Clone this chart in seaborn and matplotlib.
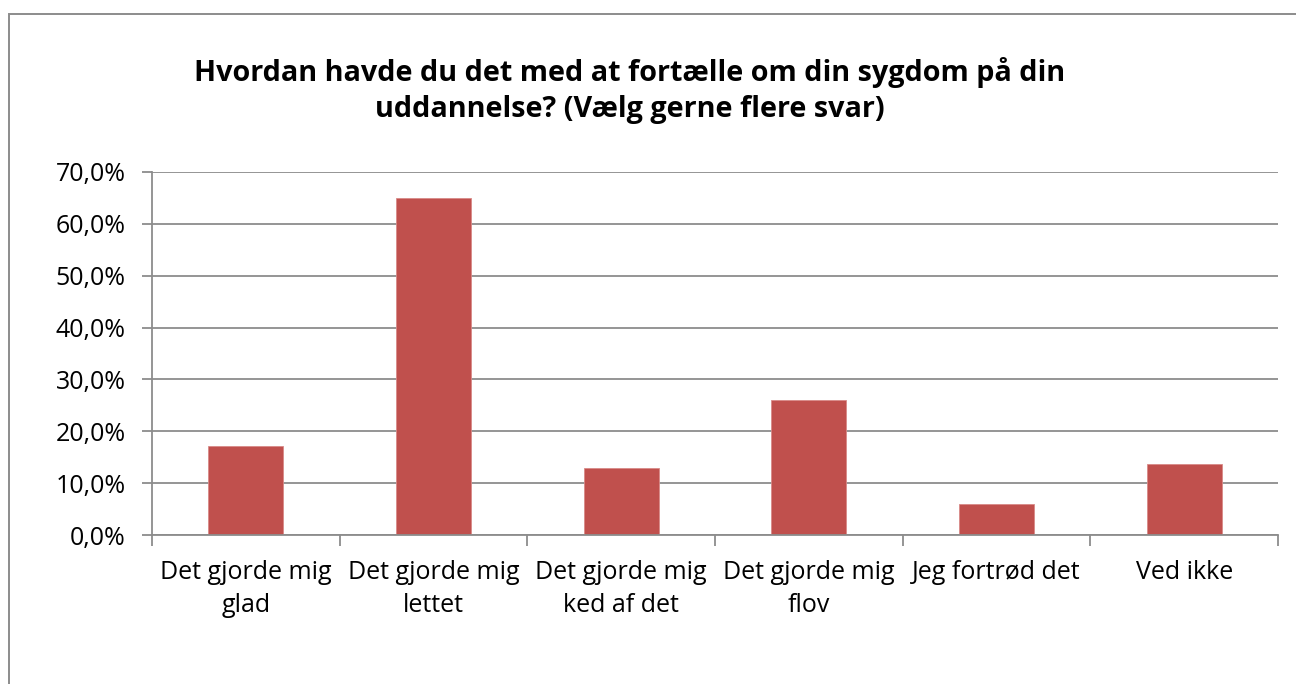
import matplotlib
matplotlib.use("Agg")
import matplotlib.pyplot as plt
import seaborn as sns
import pandas as pd
from matplotlib.patches import Rectangle
from matplotlib.ticker import FuncFormatter, MultipleLocator

categories = ["Det gjorde mig\nglad", "Det gjorde mig\nlettet", "Det gjorde mig\nked af det",
              "Det gjorde mig\nflov", "Jeg fortrød det", "Ved ikke"]
values = [17.2, 64.9, 13.0, 26.1, 5.9, 13.6]
title = "Hvordan havde du det med at fortælle om din sygdom på din\nuddannelse? (Vælg gerne flere svar)"

sns.set_theme(style="white")
plt.rcParams['font.family'] = ['Open Sans', 'DejaVu Sans']
plt.rcParams['text.color'] = 'black'

df = pd.DataFrame({"cat": categories, "val": values})

fig = plt.figure(figsize=(12.96, 6.84), dpi=100)
ax = fig.add_axes([152/1296, 1 - 535/684, (1278-152)/1296, (535-172)/684])

sns.barplot(data=df, x="cat", y="val", color="#C0504D", width=0.4, saturation=1, ax=ax,
            edgecolor="#D88A88", linewidth=0.6)

ax.set_ylim(0, 70)
ax.set_xlim(-0.5, len(categories) - 0.5)
ax.yaxis.set_major_locator(MultipleLocator(10))
ax.yaxis.set_major_formatter(FuncFormatter(lambda v, p: f"{v:.1f}".replace(".", ",") + "%"))
ax.set_xlabel("")
ax.set_ylabel("")

ax.grid(axis="y", color="#8C8C8C", linewidth=1.3)
ax.set_axisbelow(True)
for s in ["top", "right"]:
    ax.spines[s].set_visible(False)
for s in ["left", "bottom"]:
    ax.spines[s].set_color("#8C8C8C")
    ax.spines[s].set_linewidth(1.3)

ax.tick_params(axis="y", which="major", left=True, length=7, width=1.3, color="#8C8C8C",
               labelsize=18, pad=12, labelcolor="black")
ax.tick_params(axis="x", which="major", bottom=False, labelsize=18, pad=12, labelcolor="black")
ax.set_xticks(range(len(categories)))
ax.set_xticklabels(categories, linespacing=1.42)
# category boundary ticks
ax.set_xticks([i - 0.5 for i in range(len(categories) + 1)], minor=True)
ax.tick_params(axis="x", which="minor", bottom=True, length=8, width=1.3, color="#8C8C8C")

fig.text(630/1296, 1 - 90.5/684, title, ha="center", va="center", fontsize=20.7,
         fontweight="bold", linespacing=1.3, color="black")

fig.patches.append(Rectangle((8.5/1296, -0.05), 1.1, 1 - 13.5/684 + 0.05,
                             transform=fig.transFigure, fill=False,
                             edgecolor="#8C8C8C", linewidth=1.4))

fig.savefig("out.png", dpi=100)
